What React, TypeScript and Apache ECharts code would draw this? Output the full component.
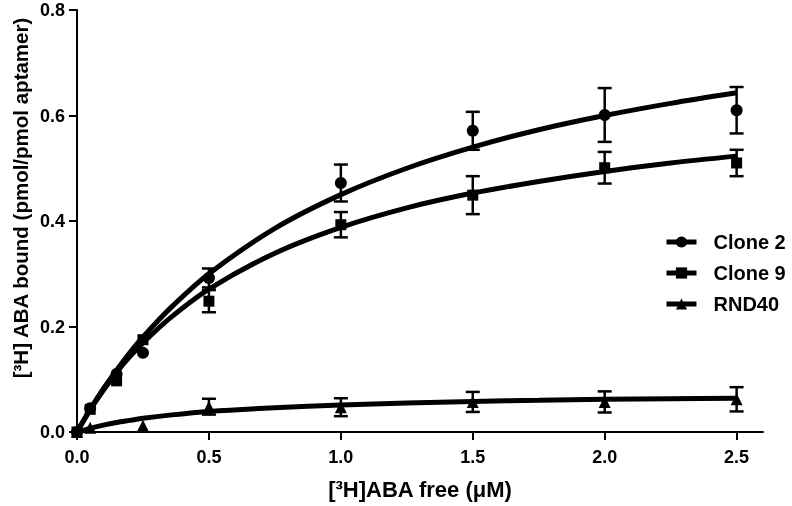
import React, { useEffect, useRef } from "react";
import * as echarts from "echarts";

// measured concentrations (µM)
const xPoints = [0, 0.05, 0.15, 0.25, 0.5, 1.0, 1.5, 2.0, 2.5];
const clone2 = [0, 0.045, 0.11, 0.15, 0.292, 0.472, 0.571, 0.601, 0.61];
const clone2Err = [0, 0, 0, 0, 0.018, 0.035, 0.036, 0.051, 0.044];
const clone9 = [0, 0.043, 0.097, 0.175, 0.248, 0.393, 0.449, 0.501, 0.51];
const clone9Err = [0, 0, 0, 0, 0.021, 0.024, 0.036, 0.03, 0.025];
const rnd40 = [0, 0.008, null, 0.012, 0.048, 0.047, 0.057, 0.057, 0.062];
const rnd40Err = [0, 0, 0, 0, 0.015, 0.017, 0.019, 0.02, 0.023];

// fitted curves
const xCurve = [0, 0.05, 0.1, 0.15, 0.2, 0.25, 0.35, 0.5, 0.75, 1.0, 1.25, 1.5, 1.75, 2.0, 2.25, 2.5];
const clone2Fit = [0, 0.043, 0.082, 0.117, 0.15, 0.18, 0.233, 0.3, 0.386, 0.45, 0.5, 0.54, 0.573, 0.6, 0.623, 0.643];
const clone9Fit = [0, 0.042, 0.079, 0.113, 0.143, 0.169, 0.215, 0.271, 0.339, 0.388, 0.425, 0.453, 0.475, 0.494, 0.51, 0.523];
const rnd40Fit = [0, 0.007, 0.013, 0.018, 0.022, 0.026, 0.032, 0.039, 0.046, 0.051, 0.055, 0.058, 0.06, 0.062, 0.063, 0.064];

const seriesNames = ["Clone 2", "Clone 9", "RND40"];
const symbols = ["circle", "rect", "triangle"];
const symbolSizes = [12, 11, 12];
const xTicks = [0, 0.5, 1.0, 1.5, 2.0, 2.5];
const yTicks = [0, 0.2, 0.4, 0.6, 0.8];

const FONT = '"Liberation Sans", Arial, sans-serif';

export default function App() {
  const ref = useRef<HTMLDivElement>(null);
  useEffect(() => {
    if (!ref.current) return;
    const chart = echarts.init(ref.current, undefined, { renderer: "svg" });
    const values = [clone2, clone9, rnd40];
    const errs = [clone2Err, clone9Err, rnd40Err];
    const fits = [clone2Fit, clone9Fit, rnd40Fit];

    const series: any[] = [];
    seriesNames.forEach((name, i) => {
      series.push({
        name,
        type: "line",
        smooth: 0.3,
        symbol: symbols[i],
        symbolSize: symbolSizes[i],
        showSymbol: false,
        lineStyle: { color: "#000", width: 5 },
        itemStyle: { color: "#000", opacity: 1 },
        data: xCurve.map((x, k) => [x, fits[i][k]]),
        z: 2,
      });
    });
    seriesNames.forEach((name, i) => {
      series.push({
        name: name + " err",
        type: "custom",
        renderItem: (params: any, api: any) => {
          const x = api.value(0);
          const y = api.value(1);
          const e = api.value(2);
          if (!e) return null;
          const top = api.coord([x, y + e]);
          const bot = api.coord([x, y - e]);
          const hw = 7;
          const st = { stroke: "#000", lineWidth: 2.5 };
          return {
            type: "group",
            children: [
              { type: "line", shape: { x1: top[0], y1: top[1], x2: bot[0], y2: bot[1] }, style: st },
              { type: "line", shape: { x1: top[0] - hw, y1: top[1], x2: top[0] + hw, y2: top[1] }, style: st },
              { type: "line", shape: { x1: bot[0] - hw, y1: bot[1], x2: bot[0] + hw, y2: bot[1] }, style: st },
            ],
          };
        },
        data: xPoints
          .map((x, k) => [x, values[i][k], errs[i][k]])
          .filter((d) => d[1] !== null),
        z: 3,
      });
      series.push({
        name: name + " pts",
        type: "scatter",
        symbol: symbols[i],
        symbolSize: symbolSizes[i],
        itemStyle: { color: "#000", opacity: 1 },
        data: xPoints
          .map((x, k) => [x, values[i][k]])
          .filter((d) => d[1] !== null),
        z: 4,
      });
    });

    chart.setOption({
      animation: false,
      grid: { left: 77, right: 29, top: 10, bottom: 74, containLabel: false },
      legend: {
        data: seriesNames,
        orient: "vertical",
        left: 664,
        top: 231,
        padding: 0,
        itemWidth: 30,
        itemHeight: 14,
        itemGap: 9,
        lineStyle: { width: 5, color: "#000" },
        itemStyle: { color: "#000", opacity: 1 },
        textStyle: { fontFamily: FONT, fontWeight: "bold", fontSize: 20, color: "#000", lineHeight: 22, padding: [0, 0, 0, 12] },
      },
      xAxis: {
        type: "value",
        min: 0,
        max: 2.6,
        interval: 0.5,
        splitLine: { show: false },
        axisLine: { onZero: false, lineStyle: { color: "#000", width: 2 } },
        axisTick: { length: 8, lineStyle: { color: "#000", width: 2 }, customValues: xTicks },
        axisLabel: {
          customValues: xTicks,
          margin: 16,
          fontFamily: FONT,
          fontWeight: "bold",
          fontSize: 18,
          color: "#000",
          formatter: (v: number) => v.toFixed(1),
        },
        name: "[³H]ABA free (μM)",
        nameLocation: "middle",
        nameGap: 46,
        nameTextStyle: { fontFamily: FONT, fontWeight: "bold", fontSize: 22, color: "#000" },
      },
      yAxis: {
        type: "value",
        min: 0,
        max: 0.8,
        interval: 0.2,
        splitLine: { show: false },
        axisLine: { onZero: false, lineStyle: { color: "#000", width: 2 } },
        axisTick: { length: 8, lineStyle: { color: "#000", width: 2 }, customValues: yTicks },
        axisLabel: {
          customValues: yTicks,
          margin: 12,
          fontFamily: FONT,
          fontWeight: "bold",
          fontSize: 18,
          color: "#000",
          formatter: (v: number) => v.toFixed(1),
        },
      },
      graphic: [
        {
          type: "text",
          x: 20,
          y: 198,
          rotation: Math.PI / 2,
          style: {
            text: "[³H] ABA bound (pmol/pmol aptamer)",
            fill: "#000",
            font: `bold 20.5px ${FONT}`,
            align: "center",
            verticalAlign: "middle",
          },
        },
      ],
      series,
    });
    return () => chart.dispose();
  }, []);
  return <div ref={ref} style={{ width: 792, height: 506, position: "fixed", left: 0, top: 0 }} />;
}
